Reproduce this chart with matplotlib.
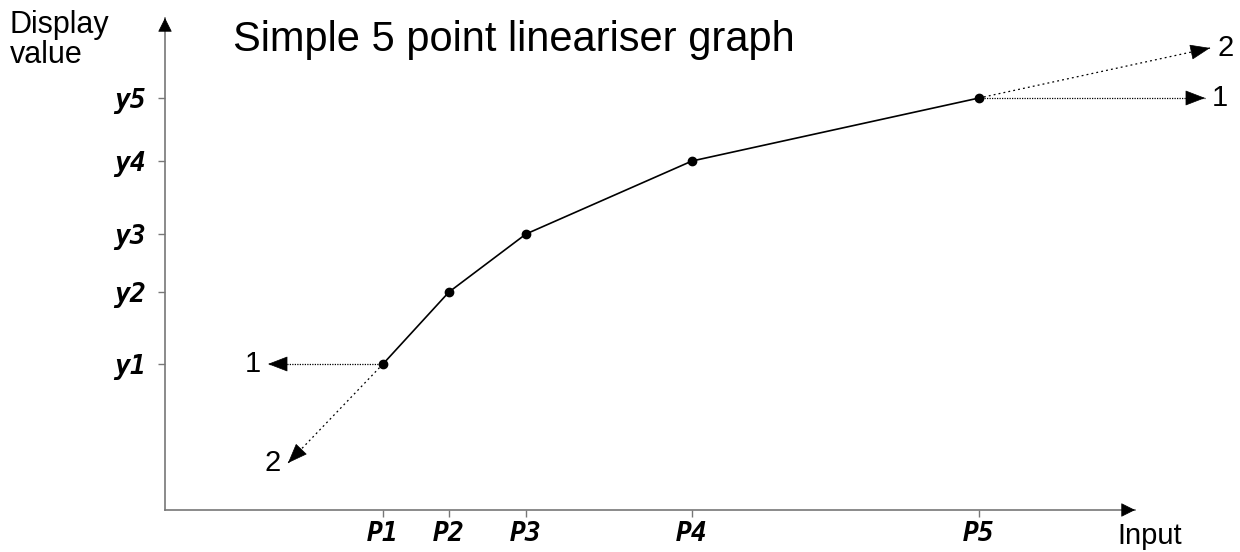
import matplotlib
matplotlib.use('Agg')
import matplotlib.pyplot as plt
from matplotlib.patches import FancyArrowPatch

# linearisation points (input, display value)
inputs = [21.8, 28.4, 36.1, 52.7, 81.4]
displays = [14.6, 21.8, 27.6, 34.9, 41.2]
x_labels = ['P1', 'P2', 'P3', 'P4', 'P5']
y_labels = ['y1', 'y2', 'y3', 'y4', 'y5']

# extension arrows beyond the end points: (start, end, label)
low_ext = [((21.8, 14.6), (10.3, 14.6), '1'), ((21.8, 14.6), (12.3, 4.7), '2')]
high_ext = [((81.4, 41.2), (104.0, 41.2), '1'), ((81.4, 41.2), (104.5, 46.2), '2')]
x_axis_end = 97.0
y_axis_end = 49.2

plt.rcParams['font.family'] = ['Liberation Sans', 'DejaVu Sans']

fig = plt.figure(figsize=(12.4, 5.52), dpi=100)
ax = fig.add_axes([0, 0, 1, 1])
ax.set_xlim(-16.5, 107.5)
ax.set_ylim(-4.2, 51.0)

# axes as arrows through the origin
for side in ['top', 'right']:
    ax.spines[side].set_visible(False)
for side in ['left', 'bottom']:
    ax.spines[side].set_position(('data', 0))
    ax.spines[side].set_color('#777777')
    ax.spines[side].set_linewidth(1.2)
ax.spines['bottom'].set_bounds(0, x_axis_end)
ax.spines['left'].set_bounds(0, y_axis_end)


def head(ax, start, end, hl, hw):
    # solid filled arrow head pointing from start towards end
    dx, dy = end[0] - start[0], end[1] - start[1]
    n = (dx ** 2 + dy ** 2) ** 0.5
    back = (end[0] - dx / n * 0.5, end[1] - dy / n * 0.5)
    ax.add_patch(FancyArrowPatch(back, end, arrowstyle='-|>,head_length=%g,head_width=%g' % (hl, hw),
                                 mutation_scale=1, color='black', lw=0.5, shrinkA=0, shrinkB=0, zorder=4))


head(ax, (0, 0), (x_axis_end, 0), 9, 4.5)
head(ax, (0, 0), (0, y_axis_end), 9, 4.5)

tick_font = dict(family='DejaVu Sans Mono', weight='bold', style='oblique', size=19)
ax.set_xticks(inputs)
ax.set_xticklabels(x_labels, fontdict=tick_font)
ax.set_yticks(displays)
ax.set_yticklabels(y_labels, fontdict=tick_font)
ax.tick_params(direction='out', length=5, width=1, color='#777777', labelcolor='black')
ax.tick_params(axis='x', pad=3)
ax.tick_params(axis='y', pad=9)

# lineariser curve
ax.plot(inputs, displays, color='black', lw=1.2, marker='o', markersize=6, zorder=3)

# extension arrows
styles = {'1': (0, (1, 1)), '2': (0, (1.5, 2.5))}
for start, end, lab in low_ext + high_ext:
    ax.plot([start[0], end[0]], [start[1], end[1]], color='black', lw=0.9, linestyle=styles[lab], zorder=2)
    head(ax, start, end, 13, 5)
    dx = 1.0 if end[0] > start[0] else -1.0
    ax.annotate(lab, xy=end, xytext=(dx * 11, 0), textcoords='offset points',
                ha='center', va='center', fontsize=21)

ax.text(10 / 1240, 1 - 10 / 552, 'Display\nvalue', transform=ax.transAxes, ha='left', va='top',
        fontsize=22, linespacing=1.0)
ax.text(233 / 1240, 1 - 40 / 552, 'Simple 5 point lineariser graph', transform=ax.transAxes,
        ha='left', va='center', fontsize=30)
ax.text(1150 / 1240, 1 - 536 / 552, 'Input', transform=ax.transAxes, ha='center', va='center', fontsize=21)

fig.savefig('out.png', dpi=100)
plt.close(fig)
